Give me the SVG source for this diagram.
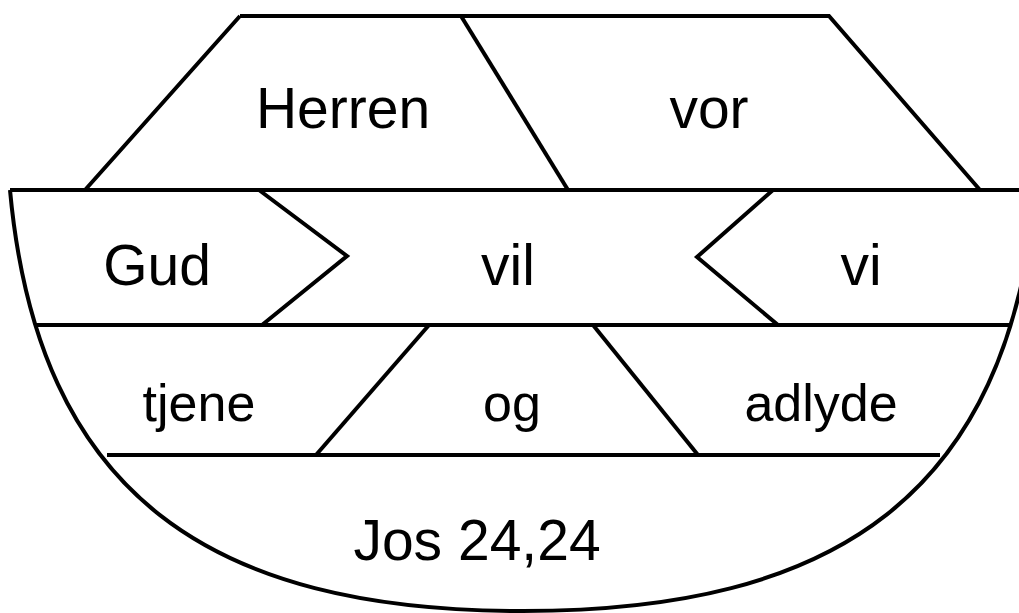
<svg xmlns="http://www.w3.org/2000/svg" width="1019" height="613" viewBox="0 0 1019 613">
<style>
.ln{fill:none;stroke:#000;stroke-width:4;stroke-linejoin:miter;stroke-linecap:butt}
.t{font-family:"Liberation Sans",Arial,sans-serif;fill:#000;text-anchor:middle}
.big{font-size:57px}
.mid{font-size:52px}
</style>
<rect width="1019" height="613" fill="#fff"/>
<g id="outline">
<path class="ln" d="M240 16 L829 16 L980 190 M240 16 L85 190"/>
<path class="ln" d="M461 16 L568 190"/>
<path class="ln" d="M10 190 L1036 190"/>
<path class="ln" d="M10 190 C38 495 210 611 523 611 C836 611 1008 495 1036 190"/>
<path class="ln" d="M35 325 L1009 325"/>
<path class="ln" d="M107 455 L940 455"/>
<path class="ln" d="M259 190 L347 256 L262 325"/>
<path class="ln" d="M773 190 L697 257 L778 325"/>
<path class="ln" d="M429 325 L316 455"/>
<path class="ln" d="M593 325 L698 455"/>
</g>
<g id="herren"><text class="t big" x="343" y="128">Herren</text></g>
<g id="vor"><text class="t big" x="709" y="128">vor</text></g>
<g id="gud"><text class="t big" x="157" y="285">Gud</text></g>
<g id="vil"><text class="t big" x="508" y="285">vil</text></g>
<g id="vi"><text class="t big" x="861" y="285">vi</text></g>
<g id="tjene"><text class="t mid" x="199" y="421">tjene</text></g>
<g id="og"><text class="t mid" x="512" y="421">og</text></g>
<g id="adlyde"><text class="t mid" x="821" y="421">adlyde</text></g>
<g id="ref"><text class="t big" x="477" y="560">Jos 24,24</text></g>
</svg>
